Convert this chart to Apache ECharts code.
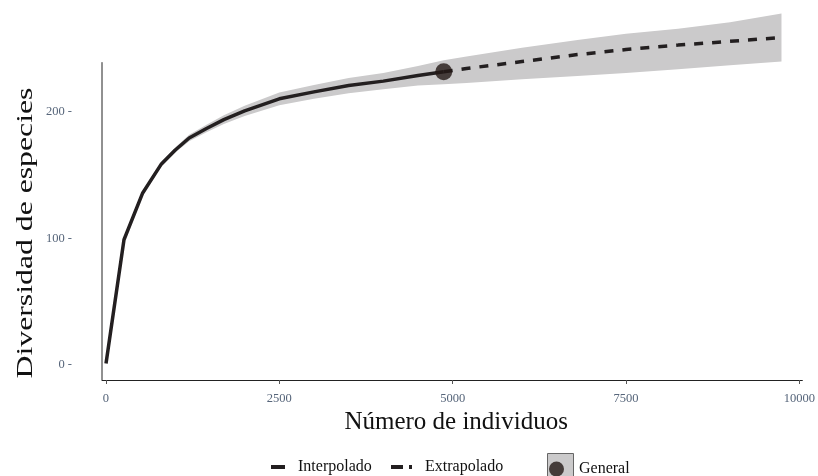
<!DOCTYPE html>
<html>
<head>
<meta charset="utf-8">
<script src="https://cdn.jsdelivr.net/npm/echarts@6/dist/echarts.min.js"></script>
<style>
  html, body { margin: 0; padding: 0; background: #fff; }
  #chart { width: 818px; height: 476px; }
</style>
</head>
<body>
<div id="chart"></div>
<script>
// Curva de rarefacción / extrapolación (iNEXT)
const nInterp = [1, 260, 530, 800, 1000, 1200, 1450, 1700, 2000, 2500, 3000, 3500, 4000, 4500, 4871]
const sInterp = [1, 99, 136, 159, 170, 179.5, 187, 194, 201, 210.5, 216, 221, 224.5, 229, 232]
const loInterp = [1, 98, 134.5, 157, 168, 177, 184, 190.5, 197, 205.5, 210.5, 215, 218, 221, 222]
const hiInterp = [1, 100, 137.5, 161, 172, 182, 190, 197.5, 205, 215.5, 221.5, 227, 231, 236.5, 241]

const nExtrap = [4871, 5200, 6000, 6800, 7500, 8250, 9000, 9742]
const sExtrap = [232, 234.5, 240, 245.5, 249.5, 253, 256, 259]
const loExtrap = [222, 223, 226, 228.5, 231, 234, 237, 240]
const hiExtrap = [241, 244, 251, 257, 262, 266, 271, 278]

const refN = 4871
const refS = 232

const xTicks = [0, 2500, 5000, 7500, 10000]
const yTicks = [0, 100, 200]

const serif = 'Liberation Serif'
const ink = '#231f20'
const bandGrey = '#cbcacb'
const tickInk = '#56657a'

const pairs = (xs, ys) => xs.map((x, i) => [x, ys[i]])
const bandN = nInterp.concat(nExtrap.slice(1))
const bandLo = loInterp.concat(loExtrap.slice(1))
const bandHi = hiInterp.concat(hiExtrap.slice(1))

const legendText = pad => ({ fontFamily: serif, fontSize: 16, color: '#111', padding: [0, 0, 0, pad] })

const chart = echarts.init(document.getElementById('chart'))
chart.setOption({
  animation: false,
  backgroundColor: '#fff',
  grid: { left: 102, right: 13, top: 11, bottom: 96 },
  xAxis: {
    type: 'value',
    min: -57,
    max: 10043,
    name: 'Número de individuos',
    nameLocation: 'middle',
    nameGap: 28,
    nameTextStyle: { fontFamily: serif, fontSize: 25, color: '#111', padding: [0, 0, 0, 8] },
    splitLine: { show: false },
    axisLine: { onZero: false, lineStyle: { color: '#222', width: 1 } },
    axisTick: { customValues: xTicks, length: 4, lineStyle: { color: '#555' } },
    axisLabel: {
      customValues: xTicks, fontFamily: serif, fontSize: 12.5, color: tickInk, margin: 12,
      formatter: v => String(v)
    }
  },
  yAxis: {
    type: 'value',
    min: -12,
    max: 280,
    splitLine: { show: false },
    axisLine: { show: false },
    axisTick: { show: false },
    axisLabel: {
      customValues: yTicks, fontFamily: serif, fontSize: 12.5, color: tickInk, margin: 30,
      formatter: v => v + ' -'
    }
  },
  legend: [
    { data: [{ name: 'Interpolado', icon: 'rect' }], left: 271, top: 459, padding: 0,
      itemWidth: 14, itemHeight: 4, textStyle: legendText(8) },
    { data: [{ name: 'Extrapolado', icon: 'path://M0,0H12V4H0Z M18,0H21V4H18Z' }], left: 391, top: 459, padding: 0,
      itemWidth: 21, itemHeight: 4, textStyle: legendText(8) },
    { data: [{ name: 'General', icon: 'circle' }], left: 549, top: 461, padding: 0,
      itemWidth: 15, itemHeight: 15, textStyle: legendText(10) }
  ],
  graphic: [
    { type: 'rect', left: 547, top: 453, shape: { width: 26, height: 24 }, z: -1,
      style: { fill: bandGrey, stroke: '#666', lineWidth: 1 } },
    { type: 'text', x: 26, y: 233, rotation: Math.PI / 2, scaleX: 1.38,
      style: { text: 'Diversidad de especies', font: '23px "Liberation Serif"', fill: '#111',
        align: 'center', verticalAlign: 'middle' } }
  ],
  series: [
    {
      name: 'IC', type: 'custom', silent: true, z: 1,
      data: [0],
      renderItem: (params, api) => {
        const top = bandN.map((n, i) => api.coord([n, bandHi[i]]))
        const bottom = bandN.map((n, i) => api.coord([n, bandLo[i]])).reverse()
        return { type: 'polygon', shape: { points: top.concat(bottom) }, style: { fill: bandGrey } }
      }
    },
    {
      name: 'eje', type: 'line', silent: true, symbol: 'none', z: 2,
      data: [[-57, -12], [-57, 239.5]],
      lineStyle: { color: '#222', width: 1 }
    },
    {
      name: 'Interpolado', type: 'line', symbol: 'none', color: ink, z: 3,
      data: pairs(nInterp, sInterp),
      lineStyle: { color: ink, width: 3.5 }
    },
    {
      name: 'Extrapolado', type: 'line', symbol: 'none', color: ink, z: 3,
      data: pairs(nExtrap, sExtrap),
      lineStyle: { color: ink, width: 3.5, type: [9, 9] }
    },
    {
      name: 'General', type: 'scatter', symbolSize: 17, color: '#231815',
      data: [[refN, refS]], z: 5
    }
  ]
})
window.addEventListener('resize', () => chart.resize())
</script>
</body>
</html>
